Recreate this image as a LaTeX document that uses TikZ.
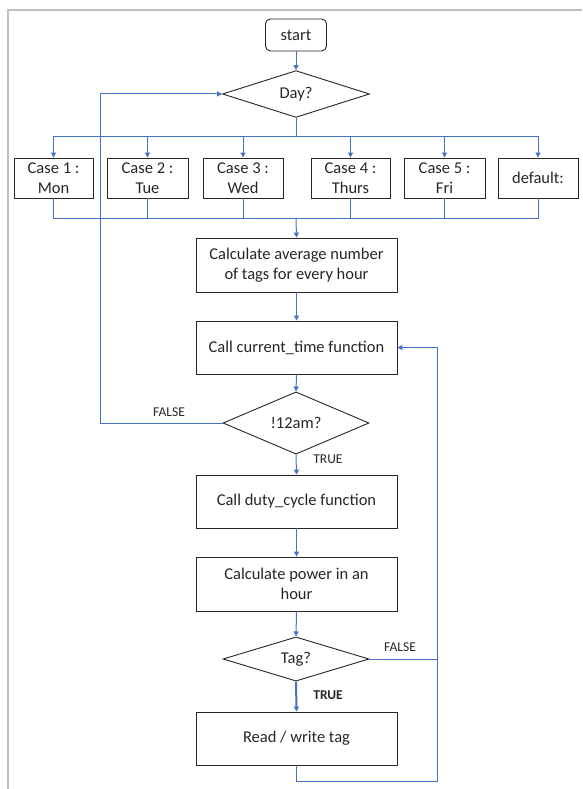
\documentclass[tikz,border=0pt]{standalone}
\usepackage{fontspec}
\setmainfont{Carlito}
\usetikzlibrary{shapes.geometric,arrows.meta}
\definecolor{conn}{HTML}{4472C4}
\definecolor{frame}{HTML}{C0C0C0}
\definecolor{ink}{HTML}{262626}
\begin{document}
\begin{tikzpicture}[x=1pt,y=-1pt,
  every node/.style={font=\fontsize{16.5}{20}\selectfont, text=ink},
  box/.style={draw=ink, line width=0.9pt, rectangle, inner sep=0pt, align=center},
  casebox/.style={box, minimum height=40pt},
  procbox/.style={box, minimum width=201pt, minimum height=53pt},
  decision/.style={draw=ink, line width=0.9pt, diamond, inner sep=0pt, minimum width=146pt, minimum height=40pt},
  conline/.style={draw=conn, line width=1pt},
  arr/.style={conline, -{Triangle[length=5pt,width=5pt]}},
  lbl/.style={font=\fontsize{13.5}{15}\selectfont}
]
\useasboundingbox (0,0) rectangle (582,789);
\draw[frame, line width=2.3pt] (7.8,789) -- (7.8,9.7) -- (582,9.7);

\node[box, rounded corners=5pt, minimum width=61pt, minimum height=32pt] (start) at (296,35) {start};
\node[decision, minimum width=147pt] (day) at (296,94) {Day?};

\node[casebox, minimum width=79pt] (c1) at (53.5,178) {Case 1 :\\Mon};
\node[casebox, minimum width=81pt] (c2) at (147.5,178) {Case 2 :\\Tue};
\node[casebox, minimum width=80pt] (c3) at (243,178) {Case 3 :\\Wed};
\node[casebox, minimum width=79pt] (c4) at (350.5,178) {Case 4 :\\Thurs};
\node[casebox, minimum width=81pt] (c5) at (444.5,178) {Case 5 :\\Fri};
\node[casebox, minimum width=80pt] (c6) at (538,178) {default:};

\node[procbox, minimum height=54pt] (avg) at (296.5,265) {Calculate average number\\of tags for every hour};
\node[procbox] (cur) at (296.5,347.5) {Call current\_time function};
\node[decision] (twelve) at (296,423) {!12am?};
\node[procbox] (duty) at (296.5,501.5) {Call duty\_cycle function};
\node[procbox, minimum height=54pt] (power) at (296.5,584) {Calculate power in an\\hour};
\node[decision] (tag) at (296,659) {Tag?};
\node[procbox] (rw) at (296.5,738.5) {Read / write tag};

\coordinate (bt) at (296,136);
\coordinate (bb) at (296,218);
\coordinate (lx) at (100,423);
\coordinate (rr) at (437,781);

\draw[arr] (start.south) -- (day.north);
\draw[conline] (day.south) -- (bt);
\foreach \c in {c1,c2,c3,c4,c5,c6}{
  \draw[arr] (bt) -| (\c.north);
  \draw[conline] (\c.south) |- (bb);
}
\draw[arr] (bb) -- (avg.north);
\draw[arr] (avg.south) -- (cur.north);
\draw[arr] (cur.south) -- (twelve.north);
\draw[arr] (twelve.west) -- (lx) |- (day.west);
\draw[arr] (twelve.south) -- (duty.north);
\draw[arr] (duty.south) -- (power.north);
\draw[arr] (power.south) -- (tag.north);
\draw[arr, line width=2pt] (tag.south) -- (rw.north);
\draw[conline] (tag.east) -- (tag.east -| rr);
\draw[arr] (rw.south) |- (rr) |- (cur.east);

\node[lbl] (f1) at (169,412) {FALSE};
\node[lbl] (t1) at (328,459) {TRUE};
\node[lbl] (f2) at (400,647) {FALSE};
\node[lbl, font=\fontsize{13.5}{15}\selectfont\bfseries] (t2) at (328,695) {TRUE};
\end{tikzpicture}
\end{document}
